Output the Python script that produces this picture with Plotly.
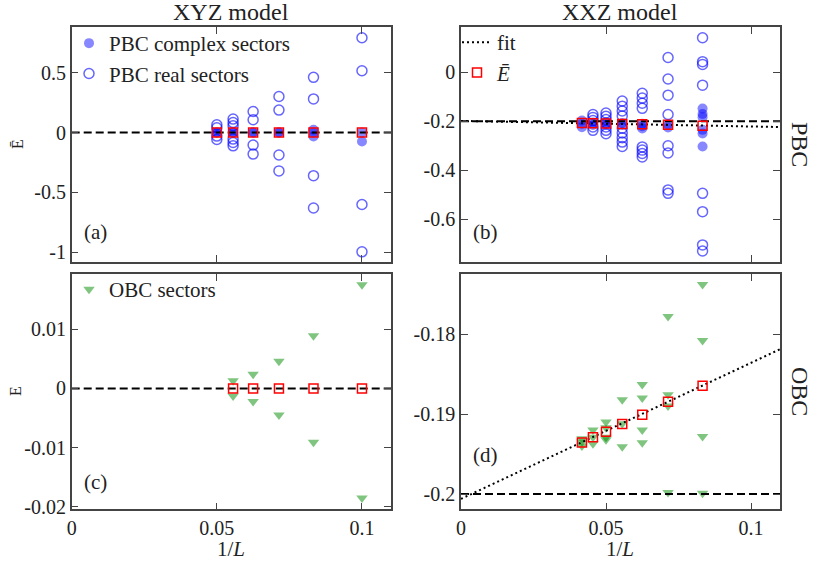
import plotly.graph_objects as go

W, H = 814, 562
FONT = "Liberation Serif"

# ---------------- data ----------------
# (a) XYZ model, PBC
a_real_x = [0.05]*4 + [0.0556]*6 + [0.0625]*4 + [0.0714]*4 + [0.0833]*4 + [0.1]*4
a_real_y = [0.065, 0.04, -0.03, -0.058,
            0.112, 0.083, 0.056, -0.055, -0.083, -0.111,
            0.175, 0.106, -0.105, -0.180,
            0.30, 0.187, -0.188, -0.32,
            0.46, 0.28, -0.36, -0.63,
            0.79, 0.515, -0.60, -0.995]
a_cplx_x = [0.05, 0.05, 0.0556, 0.0556, 0.0625, 0.0625, 0.0714, 0.0714, 0.0833, 0.0833, 0.0833, 0.1, 0.1]
a_cplx_y = [0.0, 0.0, 0.0, 0.0, 0.0, 0.0, 0.0, 0.0, 0.023, 0.0, -0.033, 0.0, -0.075]
a_mean_x = [0.05, 0.0556, 0.0625, 0.0714, 0.0833, 0.1]
a_mean_y = [0.0, 0.0, 0.0, 0.0, 0.0, 0.0]
a_exact = 0.0

# (b) XXZ model, PBC
b_real_x = ([0.0455]*5 + [0.05]*7 + [0.0556]*9 + [0.0625]*8 + [0.0714]*8 + [0.0833]*8)
b_real_y = [-0.172, -0.184, -0.197, -0.223, -0.237,
            -0.166, -0.179, -0.193, -0.207, -0.223, -0.237, -0.251,
            -0.117, -0.138, -0.158, -0.178, -0.228, -0.248, -0.267, -0.285, -0.303,
            -0.085, -0.105, -0.126, -0.147, -0.305, -0.318, -0.332, -0.346,
            0.061, -0.027, -0.093, -0.172, -0.300, -0.330, -0.481, -0.495,
            0.142, 0.044, 0.033, -0.052, -0.495, -0.570, -0.706, -0.731]
b_cplx_x = ([0.0417]*3 + [0.0455]*2 + [0.05]*2 + [0.0556]*2 + [0.0625]*3 + [0.0714]*2 + [0.0833]*6)
b_cplx_y = [-0.197, -0.210, -0.224,
            -0.205, -0.215,
            -0.207, -0.215,
            -0.207, -0.215,
            -0.210, -0.220, -0.229,
            -0.213, -0.225,
            -0.148, -0.170, -0.183, -0.235, -0.250, -0.303]
b_mean_x = [0.0417, 0.0455, 0.05, 0.0556, 0.0625, 0.0714, 0.0833]
b_mean_y = [-0.207, -0.208, -0.209, -0.211, -0.212, -0.214, -0.218]
b_fit_x = [0.0, 0.11]
b_fit_y = [-0.1985, -0.2235]
b_exact = -0.2

# (c) XYZ model, OBC
c_obc_x = [0.0556, 0.0556, 0.0625, 0.0625, 0.0714, 0.0714, 0.0833, 0.0833, 0.1, 0.1]
c_obc_y = [0.0013, -0.0013, 0.0024, -0.0022, 0.0046, -0.0045, 0.0089, -0.0091, 0.0175, -0.0185]
c_mean_x = [0.0556, 0.0625, 0.0714, 0.0833, 0.1]
c_mean_y = [0.0, 0.0, 0.0, 0.0, 0.0]
c_exact = 0.0

# (d) XXZ model, OBC
d_obc_x = ([0.0417]*3 + [0.0455]*3 + [0.05]*4 + [0.0556]*3 + [0.0625]*4 + [0.0714]*4 + [0.0833]*4)
d_obc_y = [-0.1931, -0.1935, -0.1940,
           -0.1920, -0.1929, -0.1937,
           -0.1910, -0.1917, -0.1929, -0.1932,
           -0.1882, -0.1912, -0.1941,
           -0.1863, -0.1880, -0.1920, -0.1936,
           -0.1778, -0.1876, -0.1890, -0.1998,
           -0.1738, -0.1808, -0.1928, -0.1999]
d_mean_x = [0.0417, 0.0455, 0.05, 0.0556, 0.0625, 0.0714, 0.0833]
d_mean_y = [-0.19354, -0.1929, -0.1922, -0.19125, -0.1901, -0.18846, -0.18646]
d_fit_x = [0.0, 0.11]
d_fit_y = [-0.2006, -0.1819]
d_exact = -0.2

x_range = [0.0, 0.11]
x_ticks = [0.0, 0.05, 0.1]
x_ticktext = ["0", "0.05", "0.1"]
ya_ticks, ya_text = [-1, -0.5, 0, 0.5], ["-1", "-0.5", "0", "0.5"]
yb_ticks, yb_text = [-0.6, -0.4, -0.2, 0], ["-0.6", "-0.4", "-0.2", "0"]
yc_ticks, yc_text = [-0.02, -0.01, 0, 0.01], ["-0.02", "-0.01", "0", "0.01"]
yd_ticks, yd_text = [-0.2, -0.19, -0.18], ["-0.2", "-0.19", "-0.18"]

# ---------------- styles ----------------
OPEN_BLUE = "rgba(0,0,255,0.6)"
FILL_BLUE = "rgba(0,0,255,0.47)"
GREEN = "rgba(0,140,0,0.5)"
RED = "red"
DASH = "8px,4px"
DOT = "2px,3px"

fig = go.Figure()

def open_circles(x, y, xa, ya, name=None, legend=None):
    fig.add_trace(go.Scatter(x=x, y=y, xaxis=xa, yaxis=ya, mode="markers",
                             name=name, showlegend=name is not None, legend=legend,
                             marker=dict(symbol="circle-open", size=10, color=OPEN_BLUE,
                                         line=dict(width=1.5, color=OPEN_BLUE))))

def filled_circles(x, y, xa, ya, name=None, legend=None):
    fig.add_trace(go.Scatter(x=x, y=y, xaxis=xa, yaxis=ya, mode="markers",
                             name=name, showlegend=name is not None, legend=legend,
                             marker=dict(symbol="circle", size=10, color=FILL_BLUE,
                                         line=dict(width=0))))

def hline(val, xa, ya):
    fig.add_trace(go.Scatter(x=x_range, y=[val, val], xaxis=xa, yaxis=ya, mode="lines",
                             showlegend=False, hoverinfo="skip",
                             line=dict(color="black", width=2, dash=DASH)))

def fit_line(x, y, xa, ya, name=None, legend=None):
    fig.add_trace(go.Scatter(x=x, y=y, xaxis=xa, yaxis=ya, mode="lines",
                             name=name, showlegend=name is not None, legend=legend,
                             legendrank=1,
                             line=dict(color="black", width=2, dash=DOT)))

def means(x, y, xa, ya, name=None, legend=None):
    fig.add_trace(go.Scatter(x=x, y=y, xaxis=xa, yaxis=ya, mode="markers",
                             name=name, showlegend=name is not None, legend=legend,
                             legendrank=2,
                             marker=dict(symbol="square-open", size=9, color=RED,
                                         line=dict(width=1.5, color=RED))))

def triangles(x, y, xa, ya, name=None, legend=None):
    fig.add_trace(go.Scatter(x=x, y=y, xaxis=xa, yaxis=ya, mode="markers",
                             name=name, showlegend=name is not None, legend=legend,
                             marker=dict(symbol="triangle-down", size=10, color=GREEN,
                                         line=dict(width=0))))

# (a)
filled_circles(a_cplx_x, a_cplx_y, "x", "y", "PBC complex sectors", "legend")
open_circles(a_real_x, a_real_y, "x", "y", "PBC real sectors", "legend")
hline(a_exact, "x", "y")
means(a_mean_x, a_mean_y, "x", "y")
# (b)
open_circles(b_real_x, b_real_y, "x2", "y2")
filled_circles(b_cplx_x, b_cplx_y, "x2", "y2")
hline(b_exact, "x2", "y2")
fit_line(b_fit_x, b_fit_y, "x2", "y2", "fit", "legend2")
means(b_mean_x, b_mean_y, "x2", "y2", "<i>Ē</i>", "legend2")
# (c)
triangles(c_obc_x, c_obc_y, "x3", "y3", "OBC sectors", "legend3")
hline(c_exact, "x3", "y3")
means(c_mean_x, c_mean_y, "x3", "y3")
# (d)
triangles(d_obc_x, d_obc_y, "x4", "y4")
hline(d_exact, "x4", "y4")
fit_line(d_fit_x, d_fit_y, "x4", "y4")
means(d_mean_x, d_mean_y, "x4", "y4")

# ---------------- layout ----------------
def px_x(p):
    return p / W

def px_y(p):
    return 1 - p / H

dom_xl = [px_x(71.7), px_x(391)]
dom_xr = [px_x(461), px_x(780)]
dom_yt = [px_y(262), px_y(27)]
dom_yb = [px_y(509.3), px_y(274)]

axis_common = dict(showline=True, mirror="ticks", ticks="inside", ticklen=7, tickwidth=1.3,
                   linecolor="#444", tickcolor="#444", linewidth=1.5, showgrid=False,
                   zeroline=False, automargin=False,
                   tickfont=dict(family=FONT, size=20, color="#222"))

def xaxis(dom, anchor, labels):
    return dict(axis_common, domain=dom, anchor=anchor, range=x_range, tickmode="array",
                tickvals=x_ticks, ticktext=x_ticktext, showticklabels=labels)

def yaxis(dom, anchor, rng, tv, tt):
    return dict(axis_common, domain=dom, anchor=anchor, range=rng, tickmode="array",
                tickvals=tv, ticktext=tt)

legend_common = dict(bgcolor="rgba(0,0,0,0)", borderwidth=0, xanchor="left", yanchor="top",
                     font=dict(family=FONT, size=21, color="#222"), itemsizing="trace",
                     tracegroupgap=0)

fig.update_layout(
    width=W, height=H, margin=dict(l=0, r=0, t=0, b=0, autoexpand=False),
    plot_bgcolor="white", paper_bgcolor="white",
    font=dict(family=FONT, size=20, color="#222"),
    xaxis=xaxis(dom_xl, "y", False),
    yaxis=yaxis(dom_yt, "x", [-1.08, 0.88], ya_ticks, ya_text),
    xaxis2=xaxis(dom_xr, "y2", False),
    yaxis2=yaxis(dom_yt, "x2", [-0.776, 0.186], yb_ticks, yb_text),
    xaxis3=xaxis(dom_xl, "y3", True),
    yaxis3=yaxis(dom_yb, "x3", [-0.0204, 0.0193], yc_ticks, yc_text),
    xaxis4=xaxis(dom_xr, "y4", True),
    yaxis4=yaxis(dom_yb, "x4", [-0.2019, -0.1725], yd_ticks, yd_text),
    legend=dict(legend_common, x=px_x(69), y=px_y(23)),
    legend2=dict(legend_common, x=px_x(457), y=px_y(22)),
    legend3=dict(legend_common, x=px_x(69), y=px_y(269)),
    showlegend=True,
)

ann = []
def label(text, x, y, size=20, angle=0, xanchor="center", yanchor="middle"):
    ann.append(dict(text=text, x=px_x(x), y=px_y(y), xref="paper", yref="paper",
                    showarrow=False, textangle=angle, xanchor=xanchor, yanchor=yanchor,
                    font=dict(family=FONT, size=size, color="#222")))

label("XYZ model", 231, 12, size=24)
label("XXZ model", 620, 12, size=24)
label("PBC", 800, 144, size=24, angle=90)
label("OBC", 800, 391, size=24, angle=90)
label("Ē", 17, 144, size=16, angle=-90)
label("E", 15, 391, size=16, angle=-90)
label("1/<i>L</i>", 231, 549, size=21)
label("1/<i>L</i>", 620, 549, size=21)
label("(a)", 82, 232, size=21, xanchor="left")
label("(b)", 471, 232, size=21, xanchor="left")
label("(c)", 82, 482, size=21, xanchor="left")
label("(d)", 471, 455, size=21, xanchor="left")
fig.update_layout(annotations=ann)

fig.write_html("out.html", config={"displayModeBar": False},
               post_script="document.body.style.margin='0';document.body.style.padding='0';")
